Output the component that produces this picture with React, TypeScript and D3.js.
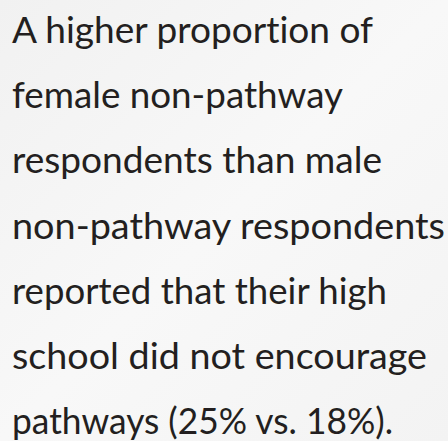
import React from "react";
import * as d3 from "d3";

const lines: string[] = [
  "A higher proportion of",
  "female non-pathway",
  "respondents than male",
  "non-pathway respondents",
  "reported that their high",
  "school did not encourage",
  "pathways (25% vs. 18%).",
];
const lineWidths: number[] = [361, 331, 370, 433, 375, 415, 381];

const W = 448;
const H = 441;

export default function App() {
  const y = d3.scaleLinear().domain([0, lines.length - 1]).range([43, 434]);
  return (
    <svg
      width={W}
      height={H}
      style={{ position: "fixed", left: 0, top: 0, display: "block" }}
    >
      <defs>
        <linearGradient id="bg" x1="0" y1="0" x2="1" y2="1">
          <stop offset="0" stopColor="#f1f1f1" />
          <stop offset="0.5" stopColor="#f8f8f8" />
          <stop offset="1" stopColor="#f3f3f3" />
        </linearGradient>
      </defs>
      <rect width={W} height={H} fill="url(#bg)" />
      {lines.map((t, i) => (
        <text
          key={i}
          x={12}
          y={y(i)}
          fontFamily="Lato, 'Open Sans', sans-serif"
          fontSize={36}
          fill="#231f20"
          textLength={lineWidths[i]}
          lengthAdjust="spacingAndGlyphs"
          style={{ fontVariantLigatures: "none", fontFeatureSettings: "'liga' 0" }}
        >
          {t}
        </text>
      ))}
    </svg>
  );
}
